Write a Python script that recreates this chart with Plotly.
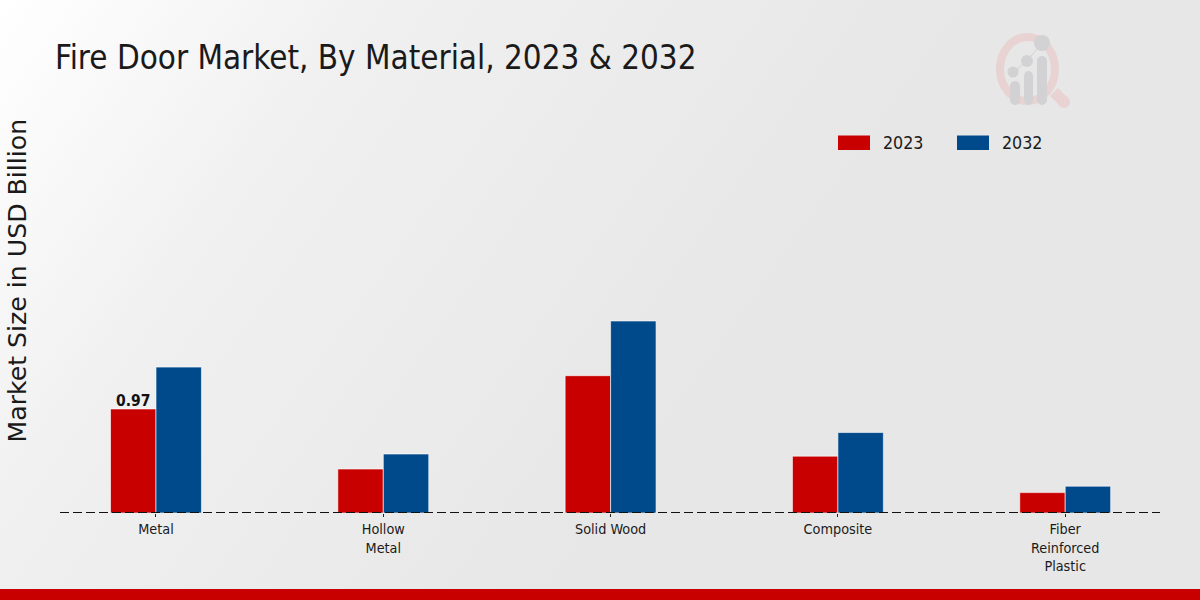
import base64
import plotly.graph_objects as go

categories = ["Metal", "Hollow<br>Metal", "Solid Wood", "Composite", "Fiber<br>Reinforced<br>Plastic"]
values_2023 = [0.97, 0.41, 1.28, 0.53, 0.19]
values_2032 = [1.36, 0.55, 1.79, 0.75, 0.25]
label_category = "Metal"
label_value = 0.97
title_text = "Fire Door Market, By Material, 2023 & 2032"
y_title = "Market Size in USD Billion"

RED = "#c80000"
BLUE = "#004a8c"
COND = "DejaVu Sans Condensed, DejaVu Sans"
W, H = 1200, 600
L, T, PW, PH = 60, 100, 1100, 413

def px(x): return (x - L) / PW
def py(y): return 1 - (y - T) / PH

bg_svg = f'''<svg xmlns="http://www.w3.org/2000/svg" width="{W}" height="{H}"><defs>
<linearGradient id="g" gradientUnits="userSpaceOnUse" x1="0" y1="0" x2="640" y2="460">
<stop offset="0" stop-color="#ffffff"/><stop offset="0.4" stop-color="#f0f0f0"/><stop offset="1" stop-color="#e7e7e7"/>
</linearGradient></defs><rect width="{W}" height="{H}" fill="url(#g)"/></svg>'''
bg_src = "data:image/svg+xml;base64," + base64.b64encode(bg_svg.encode()).decode()

fig = go.Figure()
edge = dict(color="rgba(255,255,255,0.6)", width=1)
fig.add_bar(x=categories, y=values_2023, name="2023", marker=dict(color=RED, line=edge), cliponaxis=False)
fig.add_bar(x=categories, y=values_2032, name="2032", marker=dict(color=BLUE, line=edge), cliponaxis=False)

shapes = []
def rect(x0, y0, x1, y1, color):
    shapes.append(dict(type="rect", xref="paper", yref="paper", x0=px(x0), x1=px(x1), y0=py(y0), y1=py(y1),
                       fillcolor=color, line=dict(width=0), layer="below"))
def circle(x0, y0, x1, y1, **kw):
    shapes.append(dict(type="circle", xref="paper", yref="paper", x0=px(x0), x1=px(x1), y0=py(y0), y1=py(y1),
                       layer="below", **kw))
def seg(x0, y0, x1, y1, color, width):
    shapes.append(dict(type="line", xref="paper", yref="paper", x0=px(x0), x1=px(x1), y0=py(y0), y1=py(y1),
                       line=dict(color=color, width=width), layer="below"))

# footer band
rect(0, 589, 1200, 600, RED)
# dashed baseline
shapes.append(dict(type="line", xref="paper", yref="paper", x0=px(60), x1=px(1160), y0=py(512.5), y1=py(512.5),
                   line=dict(color="#111111", width=1, dash="9px,4px"), layer="above"))
# legend swatches
rect(838, 135.5, 870, 150, RED)
rect(957, 135.5, 989, 150, BLUE)
# logo watermark
ROSE, GREY = "#e8d2d2", "#d2d2d4"
circle(1000, 37, 1055, 101, line=dict(color=ROSE, width=8))
seg(1054, 92, 1064, 102, ROSE, 11)
circle(1058, 96, 1070, 108, fillcolor=ROSE, line=dict(width=0))
for x0, x1, top in [(1010, 1020, 81), (1024, 1033, 71), (1037, 1047, 56)]:
    rect(x0, top + 5, x1, 100, GREY)
    circle(x0, top, x1, top + 10, fillcolor=GREY, line=dict(width=0))
    circle(x0, 95, x1, 105, fillcolor=GREY, line=dict(width=0))
seg(1013, 72, 1027, 61, GREY, 1)
seg(1027, 61, 1042, 43, GREY, 1)
circle(1007.5, 66.5, 1018.5, 77.5, fillcolor=GREY, line=dict(width=0))
circle(1021, 55, 1033, 67, fillcolor=GREY, line=dict(width=0))
circle(1034, 35, 1050, 51, fillcolor=GREY, line=dict(width=0))

def note(x, y, text, size, family=COND, anchor="left", angle=0, color="#1a1a1a"):
    return dict(xref="paper", yref="paper", x=px(x), y=py(y), text=text, showarrow=False,
                xanchor=anchor, yanchor="middle", textangle=angle,
                font=dict(family=family, size=size, color=color))

annotations = [
    note(53, 57.6, title_text, 32.9),
    note(17, 280.5, y_title, 25.2, family="DejaVu Sans", anchor="center", angle=-90),
    note(881, 143, "2023", 17.7),
    note(1000, 143, "2032", 17.7),
    dict(xref="x", yref="y", x=label_category, y=label_value, text=f"{label_value:.2f}", showarrow=False,
         xanchor="center", yanchor="bottom", xshift=-22.75, yshift=-3,
         font=dict(family=COND, size=15.5, color="#111111", weight=700)),
]

fig.update_layout(
    width=W, height=H, autosize=False, showlegend=False,
    margin=dict(l=60, r=40, t=100, b=87),
    paper_bgcolor="rgba(0,0,0,0)", plot_bgcolor="rgba(0,0,0,0)",
    barmode="group", bargap=0.6, bargroupgap=0,
    images=[dict(source=bg_src, xref="paper", yref="paper", x=px(0), y=py(0), sizex=W / PW, sizey=H / PH,
                 xanchor="left", yanchor="top", sizing="stretch", layer="below")],
    shapes=shapes, annotations=annotations,
    xaxis=dict(range=[-0.4223, 4.417], showgrid=False, zeroline=False, showline=False,
               ticks="outside", ticklen=3, tickcolor="#222222", tickwidth=1,
               tickfont=dict(family=COND, size=14.3, color="#1a1a1a"), tickangle=0, automargin=False),
    yaxis=dict(range=[0, 3.85], visible=False, automargin=False),
)

fig.write_html("out.html", config=dict(displayModeBar=False),
               post_script="document.body.style.margin='0';document.body.style.overflow='hidden';")
